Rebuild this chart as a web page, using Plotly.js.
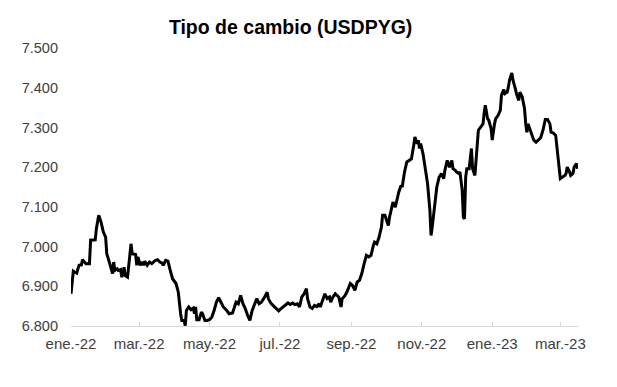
<!DOCTYPE html>
<html>
<head>
<meta charset="utf-8">
<script src="https://cdn.plot.ly/plotly-3.0.1.min.js"></script>
<style>html,body{margin:0;padding:0;background:#fff;}#chart{width:617px;height:387px;}</style>
</head>
<body>
<div id="chart"></div>
<script>
const dates = [
"2022-01-01","2022-01-03","2022-01-04","2022-01-06","2022-01-07","2022-01-08","2022-01-10","2022-01-11","2022-01-12","2022-01-14",
"2022-01-17","2022-01-18","2022-01-22","2022-01-23","2022-01-25","2022-01-27","2022-01-29","2022-01-31","2022-02-01","2022-02-03",
"2022-02-04","2022-02-06","2022-02-07","2022-02-08","2022-02-10","2022-02-11","2022-02-13","2022-02-14","2022-02-15","2022-02-16",
"2022-02-17","2022-02-19","2022-02-20","2022-02-22","2022-02-23","2022-02-26","2022-02-27","2022-02-28","2022-03-02","2022-03-04",
"2022-03-05","2022-03-06","2022-03-08","2022-03-10","2022-03-12","2022-03-15","2022-03-17","2022-03-19","2022-03-21","2022-03-22",
"2022-03-24","2022-03-26","2022-03-28","2022-03-30","2022-04-02","2022-04-04","2022-04-06","2022-04-07","2022-04-09","2022-04-10",
"2022-04-11","2022-04-13","2022-04-15","2022-04-17","2022-04-18","2022-04-19","2022-04-20","2022-04-22","2022-04-24","2022-04-25",
"2022-04-27","2022-04-29","2022-05-01","2022-05-03","2022-05-05","2022-05-07","2022-05-09","2022-05-11","2022-05-13","2022-05-16",
"2022-05-18","2022-05-21","2022-05-23","2022-05-24","2022-05-26","2022-05-28","2022-05-30","2022-06-01","2022-06-03","2022-06-05",
"2022-06-07","2022-06-09","2022-06-10","2022-06-11","2022-06-13","2022-06-15","2022-06-17","2022-06-20","2022-06-21","2022-06-23",
"2022-06-25","2022-06-28","2022-06-30","2022-07-02","2022-07-04","2022-07-06","2022-07-08","2022-07-10","2022-07-12","2022-07-14",
"2022-07-16","2022-07-18","2022-07-20","2022-07-22","2022-07-24","2022-07-25","2022-07-27","2022-07-29","2022-07-31","2022-08-02",
"2022-08-04","2022-08-05","2022-08-08","2022-08-09","2022-08-11","2022-08-13","2022-08-14","2022-08-16","2022-08-18","2022-08-21",
"2022-08-23","2022-08-24","2022-08-26","2022-08-28","2022-08-31","2022-09-02","2022-09-04","2022-09-06","2022-09-08","2022-09-10",
"2022-09-12","2022-09-14","2022-09-16","2022-09-18","2022-09-20","2022-09-21","2022-09-23","2022-09-25","2022-09-27","2022-09-28",
"2022-09-30","2022-10-01","2022-10-03","2022-10-04","2022-10-06","2022-10-07","2022-10-09","2022-10-11","2022-10-12","2022-10-14",
"2022-10-15","2022-10-17","2022-10-19","2022-10-21","2022-10-23","2022-10-25","2022-10-26","2022-10-28","2022-10-29","2022-10-30",
"2022-10-31","2022-11-02","2022-11-04","2022-11-06","2022-11-08","2022-11-09","2022-11-10","2022-11-12","2022-11-14","2022-11-16",
"2022-11-18","2022-11-20","2022-11-21","2022-11-23","2022-11-24","2022-11-25","2022-11-27","2022-11-28","2022-11-30","2022-12-01",
"2022-12-03","2022-12-04","2022-12-06","2022-12-07","2022-12-08","2022-12-09","2022-12-10","2022-12-12","2022-12-14","2022-12-15",
"2022-12-17","2022-12-19","2022-12-20","2022-12-22","2022-12-24","2022-12-25","2022-12-26","2022-12-28","2022-12-29","2022-12-31",
"2023-01-01","2023-01-03","2023-01-04","2023-01-06","2023-01-08","2023-01-09","2023-01-11","2023-01-12","2023-01-14","2023-01-15",
"2023-01-16","2023-01-18","2023-01-19","2023-01-21","2023-01-22","2023-01-24","2023-01-25","2023-01-27","2023-01-29","2023-01-30",
"2023-01-31","2023-02-01","2023-02-03","2023-02-04","2023-02-06","2023-02-08","2023-02-10","2023-02-12","2023-02-14","2023-02-16",
"2023-02-18","2023-02-20","2023-02-21","2023-02-23","2023-02-25","2023-02-26","2023-02-28","2023-03-01","2023-03-03","2023-03-05",
"2023-03-06","2023-03-07","2023-03-09","2023-03-10","2023-03-12","2023-03-13","2023-03-15","2023-03-16"
];
const usdpyg = [
6881,6938,6936,6933,6944,6953,6954,6967,6963,6957,
6957,7016,7017,7045,7079,7062,7037,7024,6982,6965,
6953,6932,6961,6940,6944,6940,6942,6923,6932,6948,
6927,6923,6948,7007,6982,6980,6953,6974,6953,6961,
6953,6963,6953,6961,6957,6965,6967,6961,6958,6953,
6965,6963,6940,6919,6907,6885,6831,6814,6814,6801,
6839,6848,6841,6845,6831,6848,6816,6816,6835,6831,
6814,6814,6816,6822,6839,6860,6871,6860,6848,6839,
6831,6833,6848,6860,6856,6877,6856,6844,6827,6814,
6839,6852,6860,6869,6856,6860,6869,6885,6869,6858,
6852,6844,6838,6844,6848,6854,6858,6854,6858,6854,
6856,6848,6873,6881,6894,6869,6848,6844,6852,6849,
6856,6848,6877,6881,6869,6873,6860,6873,6881,6873,
6848,6869,6875,6885,6907,6902,6890,6911,6915,6932,
6957,6978,6974,6978,7003,7011,7007,7024,7049,7079,
7079,7070,7053,7074,7095,7112,7099,7125,7137,7154,
7150,7188,7213,7217,7221,7255,7276,7259,7268,7247,
7259,7234,7200,7158,7091,7028,7049,7108,7150,7175,
7184,7171,7192,7217,7209,7200,7217,7196,7192,7188,
7184,7188,7142,7074,7070,7175,7196,7196,7247,7196,
7179,7259,7293,7301,7309,7335,7356,7322,7318,7297,
7268,7309,7322,7330,7343,7381,7395,7385,7389,7402,
7419,7437,7419,7398,7385,7368,7389,7377,7347,7310,
7288,7309,7293,7288,7268,7263,7268,7274,7293,7320,
7320,7309,7288,7286,7280,7251,7200,7171,7175,7179,
7184,7200,7188,7179,7184,7200,7209,7196
];
const tickDates = ["2022-01-01","2022-03-01","2022-05-01","2022-07-01","2022-09-01","2022-11-01","2023-01-01","2023-03-01"];
const tickLabels = ["ene.-22","mar.-22","may.-22","jul.-22","sep.-22","nov.-22","ene.-23","mar.-23"];
const yTicks = [6800,6900,7000,7100,7200,7300,7400,7500];

const trace = {
  x: dates, y: usdpyg, type: 'scatter', mode: 'lines',
  line: {color: '#000000', width: 3}, hoverinfo: 'skip'
};
const layout = {
  width: 617, height: 387,
  margin: {l: 71, r: 39, t: 47.7, b: 61.3},
  paper_bgcolor: '#ffffff', plot_bgcolor: '#ffffff',
  separators: ',.',
  showlegend: false,
  font: {family: '"Liberation Sans", Arial, sans-serif', color: '#404040'},
  title: {
    text: '<b>Tipo de cambio (USDPYG)</b>',
    font: {family: '"Liberation Sans", Arial, sans-serif', size: 19.5, color: '#000000'},
    xref: 'container', yref: 'container', x: 0.471, xanchor: 'center', y: 0.93, yanchor: 'middle'
  },
  xaxis: {
    type: 'date',
    range: ['2022-01-01', '2023-03-16 08:00'],
    tickmode: 'array', tickvals: tickDates, ticktext: tickLabels,
    ticks: 'inside', ticklen: 4, tickcolor: '#d9d9d9', tickwidth: 1,
    showline: true, linecolor: '#d9d9d9', linewidth: 1,
    showgrid: false, zeroline: false,
    tickfont: {size: 15, color: '#404040'},
    ticklabelstandoff: 4
  },
  yaxis: {
    range: [6800, 7500],
    tickmode: 'array', tickvals: yTicks,
    tickformat: ',.0f',
    ticks: '', showline: false, showgrid: false, zeroline: false,
    tickfont: {size: 14.5, color: '#404040'},
    ticklabelstandoff: 12
  }
};
Plotly.newPlot('chart', [trace], layout, {displayModeBar: false, staticPlot: true});
</script>
</body>
</html>
